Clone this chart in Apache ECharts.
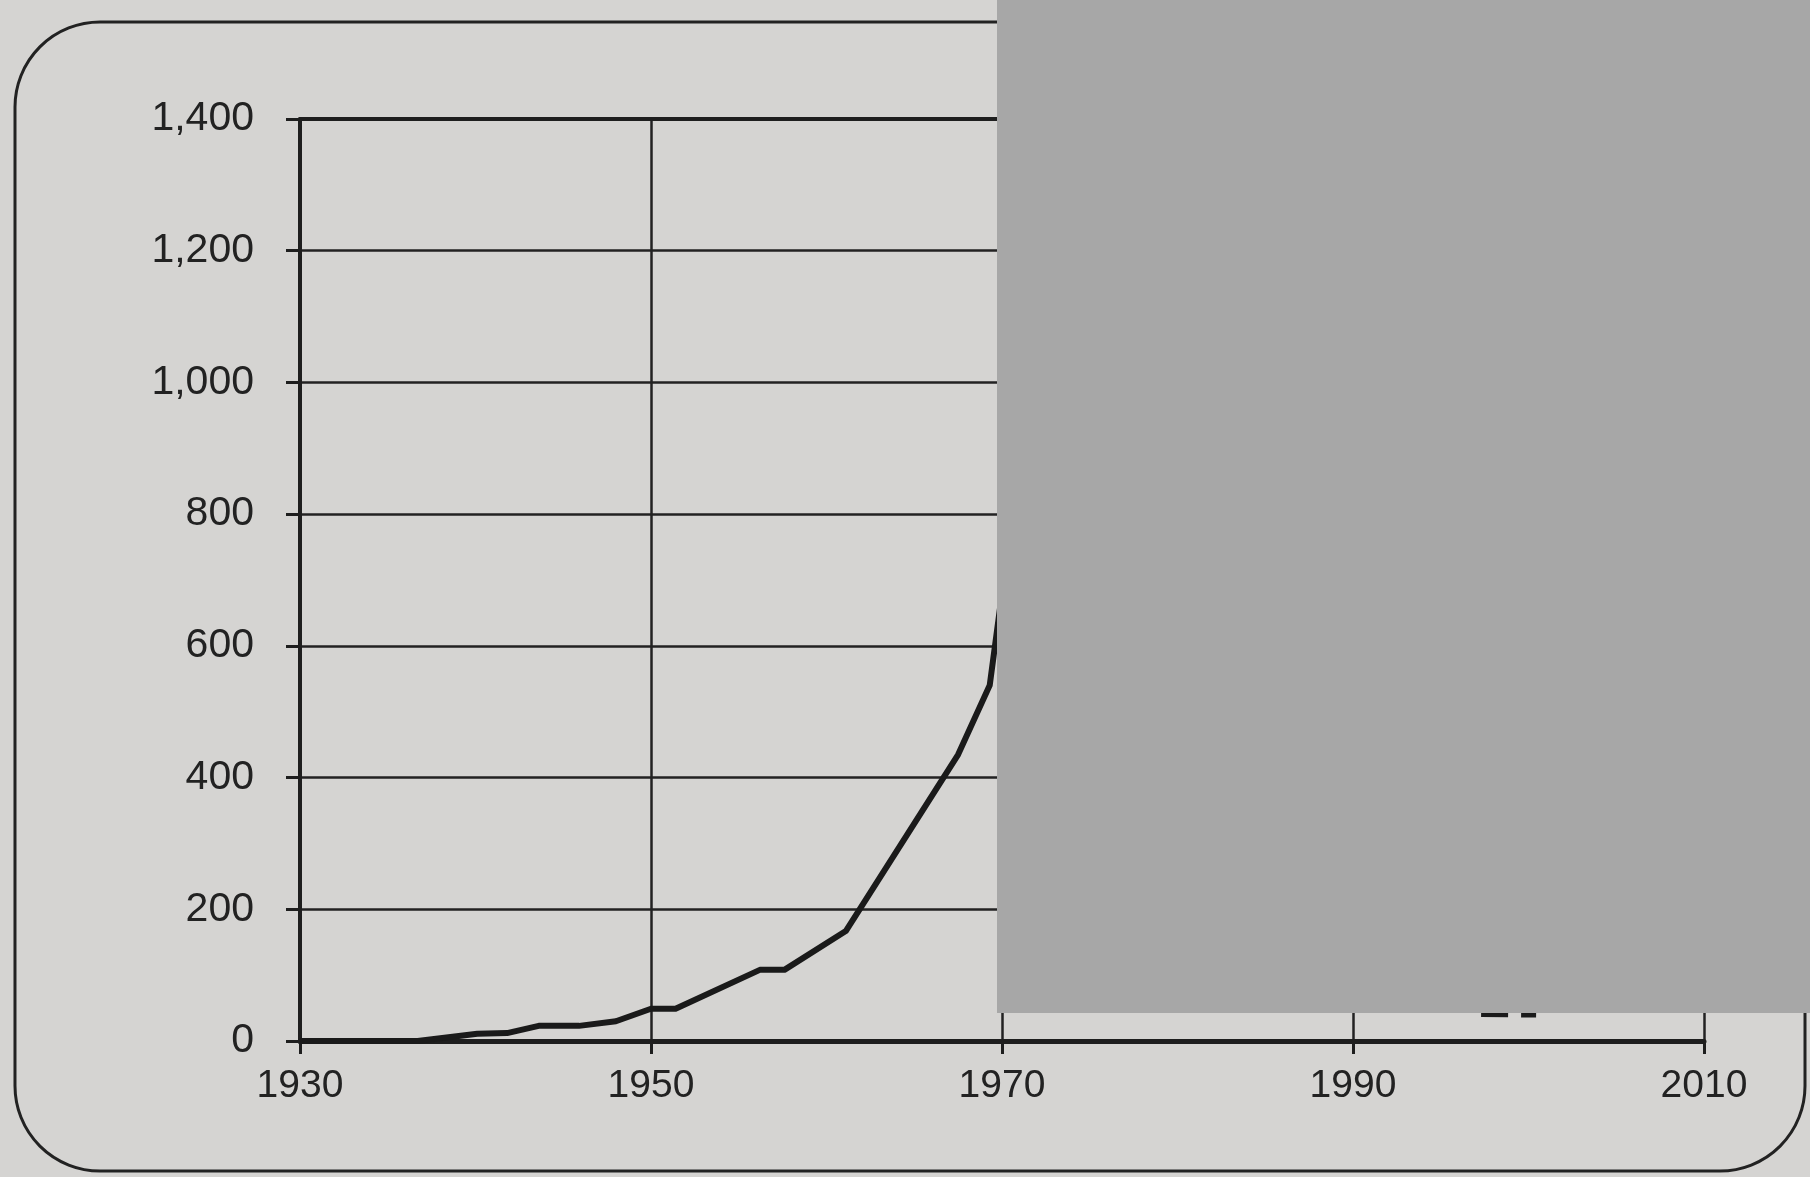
<!DOCTYPE html>
<html>
<head>
<meta charset="utf-8">
<script src="https://cdn.jsdelivr.net/npm/echarts@6/dist/echarts.min.js"></script>
<style>
	html, body { margin: 0; padding: 0; background: #d5d4d2; }
	#chart { width: 1810px; height: 1177px; }
</style>
</head>
<body>
<div id="chart"></div>
<script>
// values
var years = [1930, 1936.7, 1940.1, 1941.8, 1943.6, 1945.9, 1948, 1950, 1951.4, 1956.2, 1957.6, 1961.1, 1967.5, 1969.3, 1970];
var values = [0, 0, 11, 12, 23, 23, 30, 49, 49, 108, 108, 167, 435, 540, 680];

// bit of a second line peeking out under the grey box
var hiddenYears = [1997.3, 2000.7];
var hiddenValues = [41, 40];

var xTicks = [1930, 1950, 1970, 1990, 2010];
var yTicks = [0, 200, 400, 600, 800, 1000, 1200, 1400];

function toPairs(xs, ys) {
	var out = [];
	for (var i = 0; i < xs.length; i++) {
		out.push([xs[i], ys[i]]);
	}
	return out;
}

var chart = echarts.init(document.getElementById('chart'));

var fontName = 'Liberation Sans, Arial, sans-serif';

chart.setOption({
	backgroundColor: '#d5d4d2',
	animation: false,
	grid: { left: 300, right: 106, top: 119, bottom: 136 },
	xAxis: [{
		type: 'value',
		min: xTicks[0],
		max: xTicks[xTicks.length - 1],
		interval: 20,
		position: 'bottom',
		axisLine: { lineStyle: { color: '#1e1e1e', width: 5 } },
		axisTick: { show: true, length: 13, lineStyle: { color: '#1e1e1e', width: 3 } },
		axisLabel: {
			margin: 26,
			color: '#222',
			fontSize: 39,
			fontFamily: fontName,
			formatter: function (v) { return String(v); }
		},
		splitLine: { show: true, lineStyle: { color: '#222', width: 2.5 } }
	}, {
		type: 'value',
		min: xTicks[0],
		max: xTicks[xTicks.length - 1],
		position: 'top',
		axisLine: { show: true, lineStyle: { color: '#1e1e1e', width: 4 } },
		axisTick: { show: false },
		axisLabel: { show: false },
		splitLine: { show: false }
	}],
	yAxis: {
		type: 'value',
		min: yTicks[0],
		max: yTicks[yTicks.length - 1],
		interval: 200,
		axisLine: { show: true, lineStyle: { color: '#1e1e1e', width: 4 } },
		axisTick: { show: true, length: 14, lineStyle: { color: '#1e1e1e', width: 3 } },
		axisLabel: {
			margin: 46,
			color: '#222',
			fontSize: 41,
			fontFamily: fontName,
			formatter: function (v) { return v.toLocaleString('en-US'); }
		},
		splitLine: { show: true, lineStyle: { color: '#222', width: 2.5 } }
	},
	series: [{
		type: 'line',
		data: toPairs(years, values),
		showSymbol: false,
		lineStyle: { color: '#1a1a1a', width: 6, join: 'round' },
		z: 3
	}, {
		type: 'line',
		data: toPairs(hiddenYears, hiddenValues),
		showSymbol: false,
		lineStyle: { color: '#1a1a1a', width: 6, type: [27, 13, 15, 13] },
		z: 3
	}],
	graphic: [{
		type: 'rect',
		shape: { x: 15, y: 22, width: 1790, height: 1149, r: 85 },
		style: { fill: 'none', stroke: '#222', lineWidth: 3 },
		z: 1
	}, {
		type: 'rect',
		shape: { x: 997, y: 0, width: 813, height: 1013 },
		style: { fill: '#a7a7a7' },
		z: 100
	}]
});
</script>
</body>
</html>
